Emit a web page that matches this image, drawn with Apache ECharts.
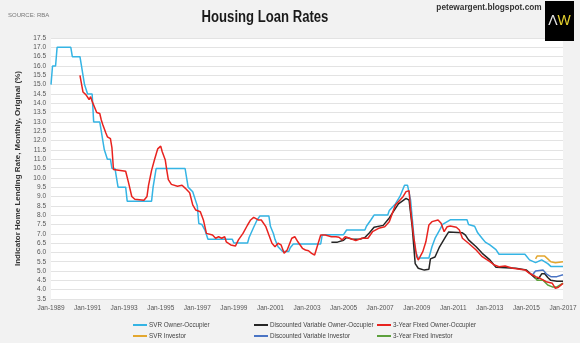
<!DOCTYPE html>
<html><head><meta charset="utf-8">
<script src="https://cdn.jsdelivr.net/npm/echarts@6/dist/echarts.min.js"></script>
<style>html,body{margin:0;padding:0;background:#f2f2f2}#c{width:580px;height:343px}</style>
</head><body><div id="c"></div>
<script>
// ---- Data (month, rate %) ----
const svrOwnerOccupier = [
['1989-01',15.0],['1989-02',16.0],['1989-04',16.0],['1989-05',17.0],['1990-02',17.0],['1990-03',16.5],['1990-08',16.5],
['1990-09',16.0],['1990-10',15.5],['1990-11',15.0],['1991-01',14.5],['1991-04',14.5],['1991-05',13.0],['1991-09',13.0],
['1991-10',12.5],['1991-11',12.0],['1991-12',11.5],['1992-02',11.0],['1992-04',11.0],['1992-05',10.5],['1992-07',10.5],
['1992-08',10.0],['1992-09',9.5],['1993-02',9.5],['1993-03',8.75],['1994-07',8.75],['1994-08',9.5],['1994-09',10.0],
['1994-10',10.5],['1996-05',10.5],['1996-06',10.0],['1996-07',9.5],['1996-10',9.25],['1996-12',8.75],['1997-01',8.5],
['1997-02',7.55],['1997-04',7.5],['1997-06',7.2],['1997-08',6.7],['1998-12',6.7],['1999-01',6.5],['1999-10',6.5],
['1999-11',6.8],['2000-02',7.35],['2000-04',7.7],['2000-06',7.95],['2000-12',7.95],['2001-01',7.4],['2001-03',7.0],
['2001-04',6.7],['2001-06',6.3],['2001-09',6.05],['2002-01',6.05],['2002-02',6.25],['2002-04',6.45],['2003-10',6.45],
['2003-11',6.95],['2005-01',6.95],['2005-03',7.2],['2006-03',7.2],['2006-04',7.4],['2006-07',7.75],['2006-09',8.0],
['2007-06',8.0],['2007-07',8.25],['2007-11',8.6],['2008-02',9.0],['2008-04',9.4],['2008-05',9.6],['2008-07',9.6],
['2008-09',8.8],['2008-10',7.9],['2008-12',6.1],['2009-02',5.7],['2009-09',5.7],['2009-11',6.3],['2010-01',6.75],
['2010-04',7.2],['2010-06',7.5],['2010-11',7.75],['2011-10',7.75],['2011-11',7.5],['2012-03',7.4],['2012-05',7.05],
['2012-08',6.75],['2012-10',6.55],['2013-01',6.4],['2013-05',6.15],['2013-07',5.9],['2014-12',5.9],['2015-03',5.6],
['2015-07',5.45],['2015-11',5.6],['2016-03',5.4],['2016-05',5.25],['2017-01',5.25]
];
const discVarOwnerOccupier = [
['2004-05',6.55],['2004-09',6.55],['2005-01',6.65],['2005-03',6.8],['2005-07',6.7],['2005-12',6.72],['2006-03',6.8],
['2006-06',7.05],['2006-09',7.35],['2007-03',7.45],['2007-07',7.85],['2008-01',8.6],['2008-06',8.9],['2008-08',8.8],
['2008-10',7.4],['2008-12',5.4],['2009-02',5.15],['2009-06',5.05],['2009-09',5.1],['2009-10',5.65],['2010-01',5.75],
['2010-04',6.3],['2010-08',6.85],['2010-10',7.1],['2011-07',7.05],['2011-09',6.93],['2011-11',6.67],['2012-04',6.3],
['2012-08',5.95],['2013-01',5.6],['2013-05',5.2],['2014-06',5.15],['2015-01',5.05],['2015-03',4.9],['2015-07',4.6],
['2015-09',4.6],['2015-11',4.85],['2016-01',4.85],['2016-03',4.65],['2016-05',4.5],['2016-09',4.45],['2017-01',4.45]
];
const fixed3OwnerOccupier = [
['1990-08',15.5],['1990-10',14.6],['1990-12',14.45],['1991-02',14.2],['1991-03',14.35],['1991-04',14.1],['1991-07',13.5],
['1991-09',13.45],['1991-10',13.1],['1991-11',12.85],['1992-01',12.4],['1992-02',12.2],['1992-04',12.1],['1992-05',11.6],
['1992-06',10.45],['1993-02',10.35],['1993-04',9.7],['1993-06',9.0],['1993-08',8.85],['1994-02',8.8],['1994-04',9.0],
['1994-05',9.6],['1994-07',10.4],['1994-09',11.0],['1994-11',11.55],['1995-01',11.7],['1995-02',11.4],['1995-04',10.95],
['1995-05',10.4],['1995-06',9.9],['1995-08',9.65],['1995-12',9.55],['1996-03',9.6],['1996-05',9.45],['1996-08',9.2],
['1996-10',8.55],['1996-12',8.27],['1997-03',8.18],['1997-04',8.27],['1997-05',7.74],['1997-07',7.02],['1997-11',6.93],
['1998-01',6.76],['1998-03',6.84],['1998-05',6.76],['1998-07',6.84],['1998-08',6.57],['1998-11',6.4],['1999-02',6.34],
['1999-04',6.67],['1999-07',7.02],['1999-10',7.47],['1999-12',7.74],['2000-02',7.88],['2000-03',7.83],['2000-05',7.74],
['2000-07',7.74],['2000-10',7.38],['2000-12',6.93],['2001-02',6.49],['2001-04',6.3],['2001-06',6.49],['2001-08',6.4],
['2001-10',5.95],['2001-12',6.13],['2002-03',6.76],['2002-05',6.84],['2002-07',6.57],['2002-10',6.22],['2002-12',6.13],
['2003-02',6.09],['2003-04',5.95],['2003-06',5.86],['2003-07',6.13],['2003-10',6.93],['2004-01',6.93],['2004-05',6.84],
['2004-08',6.84],['2004-10',6.81],['2004-12',6.67],['2005-02',6.84],['2005-05',6.76],['2005-09',6.63],['2006-01',6.76],
['2006-05',6.76],['2006-08',7.11],['2006-12',7.29],['2007-04',7.38],['2007-07',7.65],['2007-11',8.54],['2008-04',8.99],
['2008-06',9.26],['2008-08',9.31],['2008-09',8.27],['2008-11',6.84],['2009-01',5.77],['2009-02',5.59],['2009-05',6.04],
['2009-07',6.57],['2009-09',7.47],['2009-11',7.65],['2010-03',7.74],['2010-05',7.56],['2010-07',7.11],['2010-09',7.38],
['2010-11',7.42],['2011-03',7.35],['2011-05',7.2],['2011-07',6.76],['2011-11',6.49],['2012-04',6.13],['2012-08',5.77],
['2013-01',5.5],['2013-04',5.32],['2013-07',5.23],['2013-11',5.27],['2014-04',5.15],['2014-12',5.06],['2015-03',4.88],
['2015-07',4.7],['2015-10',4.61],['2016-02',4.43],['2016-06',4.34],['2016-08',4.07],['2016-10',4.13],['2017-01',4.34]
];
const svrInvestor = [
['2015-07',5.65],['2015-08',5.8],['2016-01',5.8],['2016-03',5.65],['2016-05',5.5],['2016-08',5.45],['2017-01',5.5]
];
const discVarInvestor = [
['2015-05',4.8],['2015-07',5.0],['2015-12',5.05],['2016-02',4.85],['2016-05',4.7],['2016-09',4.7],['2017-01',4.8]
];
const fixed3Investor = [
['2015-06',4.8],['2015-08',4.5],['2015-12',4.5],['2016-03',4.25],['2016-06',4.15],['2016-09',4.15],['2017-01',4.35]
];
const seriesNames = ['SVR Owner-Occupier','Discounted Variable Owner-Occupier','3-Year Fixed Owner-Occupier',
  'SVR Investor','Discounted Variable Investor','3-Year Fixed Investor'];
const seriesColors = ['#35b4e4','#262626','#e8231f','#e3a72f','#4a74c4','#5da03d'];
const seriesData = [svrOwnerOccupier, discVarOwnerOccupier, fixed3OwnerOccupier, svrInvestor, discVarInvestor, fixed3Investor];
const xTickYears = [1989,1991,1993,1995,1997,1999,2001,2003,2005,2007,2009,2011,2013,2015,2017];

const toYear = s => { const p = s.split('-'); return +p[0] + (+p[1]-1)/12; };
const FONT = "'Liberation Sans',Arial,sans-serif";

const chart = echarts.init(document.getElementById('c'), null, {renderer:'canvas'});
const legendLeft = [133, 254, 377, 133, 254, 377];
const legendTop  = [322, 322, 322, 333, 333, 333];
chart.setOption({
  backgroundColor:'#f2f2f2',
  animation:false,
  legend: seriesNames.map((n, i) => ({
    left:legendLeft[i], top:legendTop[i], padding:0, itemWidth:14, itemHeight:2, icon:'rect',
    data:[n], textStyle:{fontFamily:FONT, fontSize:6.3, color:'#444', padding:[0,0,0,-3]}
  })),
  grid:{left:51, right:17, top:38, bottom:44, show:true, backgroundColor:'#ffffff', borderWidth:0},
  xAxis:{type:'value', min:1989, max:2017, interval:2,
    axisLine:{show:false}, axisTick:{show:false}, splitLine:{show:false},
    axisLabel:{fontFamily:FONT, fontSize:6.5, color:'#555', margin:6,
      formatter:v => xTickYears.includes(v) ? 'Jan-' + v : ''}},
  yAxis:{type:'value', min:3.5, max:17.5, interval:0.5,
    name:'Indicator Home Lending Rate, Monthly, Original (%)', nameLocation:'middle', nameGap:29, nameRotate:90,
    nameTextStyle:{fontFamily:FONT, fontSize:8, fontWeight:'bold', color:'#333'},
    axisLine:{show:false}, axisTick:{show:false},
    splitLine:{lineStyle:{color:'#e3e3e3', width:1}},
    axisLabel:{fontFamily:FONT, fontSize:6.5, color:'#555', margin:5, formatter:v => v.toFixed(1)}},
  graphic:[
    {type:'text', x:265, y:18, scaleX:0.82, z:100,
      style:{text:'Housing Loan Rates', textAlign:'center', textVerticalAlign:'middle',
        font:"bold 16px "+FONT, fill:'#1a1a1a'}},
    {type:'text', left:8, top:12, z:100, style:{text:'SOURCE: RBA', font:"6px "+FONT, fill:'#777'}},
    {type:'text', x:489, y:8, scaleX:0.92, z:100,
      style:{text:'petewargent.blogspot.com', textAlign:'center', textVerticalAlign:'middle', font:"bold 9px "+FONT, fill:'#333'}},
    {type:'rect', z:100, shape:{x:545, y:1, width:29, height:40}, style:{fill:'#000'}},
    {type:'text', z:101, x:559.5, y:21, style:{text:'{a|Λ}{b|W}', textAlign:'center', textVerticalAlign:'middle',
      rich:{a:{fontFamily:FONT, fontSize:14, fill:'#e6e6e6'}, b:{fontFamily:FONT, fontSize:14, fill:'#e5d12e'}}}}
  ],
  series: seriesData.map((d, i) => ({
    name:seriesNames[i], type:'line', showSymbol:false, symbol:'none',
    color:seriesColors[i], lineStyle:{width:1.5, color:seriesColors[i]},
    data:d.map(p => [toYear(p[0]), p[1]]), z: i===2 ? 4 : 3
  }))
});
</script></body></html>
